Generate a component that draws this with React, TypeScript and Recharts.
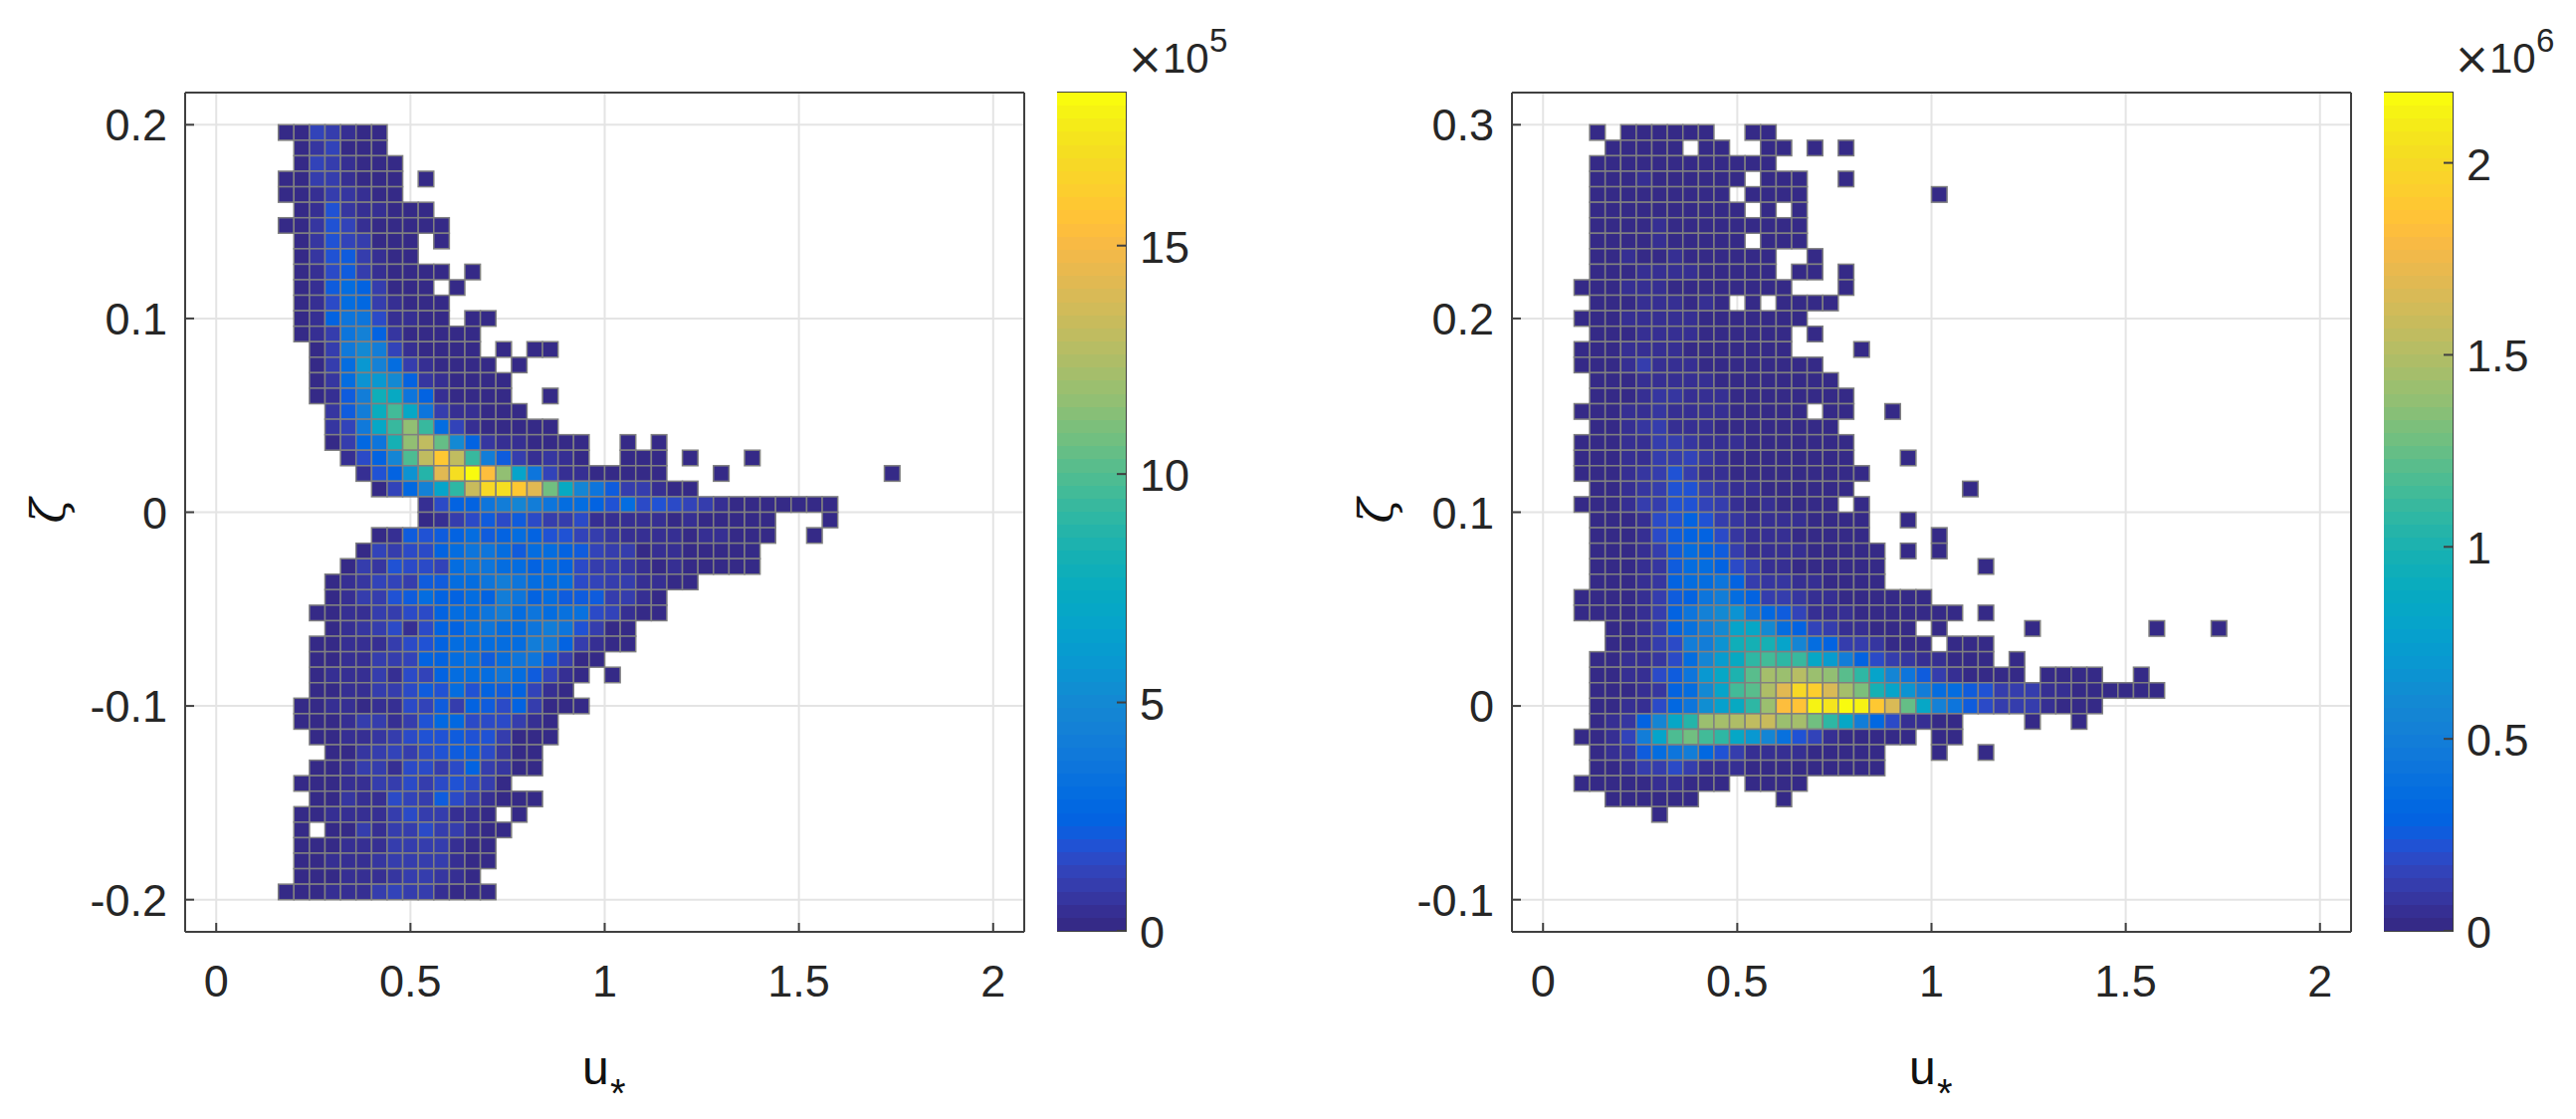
import { Bar, BarChart, CartesianGrid, ReferenceArea, Scatter, ScatterChart, XAxis, YAxis } from "recharts"

// bin heights, in % of the colorbar top. Each row is [first column, ...values], 0 = empty bin
const leftRows: number[][] = [
  [0, 1, 1, 7, 5, 3, 1, 1],
  [1, 1, 4, 7, 1, 1, 1],
  [1, 1, 7, 6, 3, 1, 1, 1],
  [0, 1, 1, 5, 6, 3, 1, 1, 1, 0, 1],
  [0, 1, 1, 3, 6, 4, 2, 1, 1],
  [1, 1, 3, 10, 4, 2, 2, 1, 1, 1],
  [0, 1, 1, 4, 10, 7, 2, 1, 1, 1, 1, 1],
  [1, 1, 4, 10, 7, 6, 1, 1, 1, 0, 1],
  [1, 1, 4, 10, 12, 5, 2, 1, 1],
  [1, 1, 3, 8, 12, 6, 2, 1, 1, 1, 1, 0, 1],
  [1, 1, 2, 12, 17, 13, 6, 1, 1, 1, 0, 1],
  [1, 1, 2, 9, 17, 15, 6, 3, 1, 1, 1],
  [1, 1, 2, 13, 19, 20, 9, 3, 2, 1, 1, 0, 1, 1],
  [1, 1, 2, 5, 20, 24, 13, 4, 1, 1, 1, 1, 1],
  [2, 1, 6, 21, 27, 22, 7, 3, 1, 1, 1, 1, 0, 1, 0, 1, 1],
  [2, 1, 6, 17, 32, 24, 17, 6, 2, 1, 1, 1, 1, 0, 1],
  [2, 1, 4, 16, 30, 32, 27, 14, 4, 2, 1, 1, 1, 1],
  [2, 1, 2, 12, 22, 43, 40, 20, 14, 3, 1, 1, 1, 1, 0, 0, 1],
  [3, 4, 12, 22, 41, 52, 38, 19, 5, 3, 2, 1, 1, 1],
  [3, 4, 7, 21, 38, 51, 63, 51, 17, 7, 2, 1, 1, 1, 1, 1],
  [3, 1, 5, 15, 20, 45, 63, 71, 57, 27, 14, 4, 2, 2, 1, 1, 1, 1, 0, 0, 1, 0, 1],
  [4, 2, 9, 14, 25, 54, 71, 87, 71, 50, 22, 12, 5, 3, 4, 2, 1, 0, 0, 1, 1, 1, 0, 1, 0, 0, 0, 1],
  [5, 3, 10, 14, 30, 48, 78, 93, 100, 83, 63, 37, 19, 7, 3, 2, 1, 1, 1, 1, 1, 0, 0, 0, 1, 0, 0, 0, 0, 0, 0, 0, 0, 0, 0, 1],
  [6, 1, 7, 15, 24, 37, 49, 72, 91, 93, 87, 78, 59, 40, 25, 19, 11, 5, 5, 3, 1, 1],
  [9, 3, 8, 13, 14, 19, 22, 25, 22, 19, 17, 16, 13, 10, 16, 9, 10, 8, 7, 6, 3, 1, 1, 1, 1, 1, 1, 1],
  [9, 1, 3, 6, 8, 11, 9, 11, 8, 5, 5, 8, 3, 2, 2, 2, 3, 1, 2, 1, 1, 1, 1, 1, 0, 0, 0, 1],
  [6, 1, 3, 11, 10, 11, 13, 17, 11, 14, 16, 13, 10, 10, 7, 5, 4, 3, 3, 3, 3, 1, 3, 3, 1, 1, 1, 0, 0, 1],
  [5, 1, 7, 6, 9, 9, 14, 17, 19, 20, 16, 12, 17, 17, 14, 11, 7, 6, 6, 1, 2, 3, 1, 1, 1, 1, 1],
  [4, 1, 5, 4, 10, 9, 9, 7, 16, 19, 19, 17, 17, 14, 17, 14, 8, 6, 5, 4, 3, 1, 2, 1, 1, 1, 1, 1],
  [3, 1, 3, 4, 7, 7, 6, 12, 11, 17, 17, 20, 22, 20, 16, 17, 16, 9, 7, 6, 6, 3, 3, 1, 1],
  [3, 1, 3, 6, 5, 10, 12, 16, 14, 14, 17, 14, 23, 19, 14, 17, 12, 12, 11, 6, 6, 3, 1],
  [2, 1, 1, 3, 2, 6, 6, 8, 9, 14, 16, 17, 19, 22, 17, 19, 17, 18, 18, 8, 7, 2, 1, 1],
  [3, 1, 3, 4, 5, 8, 3, 8, 14, 14, 18, 19, 16, 17, 19, 22, 19, 10, 6, 1, 1],
  [2, 1, 1, 3, 3, 3, 5, 8, 10, 14, 16, 17, 16, 17, 17, 22, 21, 14, 6, 3, 1, 1],
  [2, 1, 1, 3, 3, 5, 5, 7, 13, 14, 16, 18, 11, 17, 19, 19, 11, 6, 1, 1],
  [2, 1, 2, 3, 2, 5, 3, 9, 7, 14, 16, 16, 17, 20, 17, 11, 7, 2, 1, 0, 1],
  [2, 1, 1, 3, 3, 5, 5, 9, 11, 10, 16, 10, 13, 11, 13, 7, 3, 1],
  [1, 1, 1, 2, 2, 1, 3, 3, 9, 7, 12, 6, 14, 11, 9, 14, 5, 1, 1, 1],
  [1, 1, 1, 1, 3, 6, 5, 3, 5, 10, 15, 15, 9, 9, 9, 6, 3, 1],
  [2, 1, 1, 3, 2, 4, 5, 8, 10, 10, 12, 10, 10, 6, 1, 1, 1],
  [3, 1, 1, 4, 6, 7, 6, 8, 10, 12, 12, 9, 4, 1, 1],
  [2, 1, 1, 3, 6, 5, 3, 8, 8, 6, 8, 13, 6, 4, 1, 1],
  [1, 1, 1, 1, 2, 2, 6, 5, 8, 6, 8, 10, 8, 5, 1],
  [2, 1, 1, 4, 2, 3, 8, 7, 5, 11, 8, 5, 2, 1, 1, 1],
  [1, 1, 1, 3, 3, 2, 3, 6, 8, 6, 5, 3, 3, 1, 0, 1],
  [1, 1, 0, 1, 1, 5, 2, 6, 6, 8, 6, 6, 3, 1, 1],
  [1, 1, 1, 1, 3, 3, 3, 6, 6, 6, 6, 3, 1, 1],
  [1, 1, 1, 2, 3, 2, 4, 5, 6, 6, 6, 3, 1, 1],
  [1, 1, 1, 1, 3, 2, 3, 4, 6, 5, 4, 3, 1],
  [0, 1, 1, 1, 2, 3, 3, 5, 7, 6, 5, 3, 1, 1, 1],
]

const rightRows: number[][] = [
  [1, 1, 0, 1, 1, 1, 1, 1, 1, 0, 0, 1, 1],
  [2, 1, 1, 1, 1, 1, 0, 1, 1, 0, 0, 1, 1, 0, 1, 0, 1],
  [1, 1, 1, 1, 1, 1, 1, 1, 1, 1, 1, 1, 1],
  [1, 1, 1, 1, 2, 1, 1, 1, 1, 1, 1, 0, 1, 1, 1, 0, 0, 1],
  [1, 1, 1, 1, 1, 1, 1, 1, 1, 1, 0, 1, 1, 1, 1, 0, 0, 0, 0, 0, 0, 0, 0, 1],
  [1, 1, 1, 1, 1, 1, 1, 1, 1, 1, 1, 0, 1, 0, 1],
  [1, 1, 1, 1, 1, 2, 1, 1, 1, 1, 1, 1, 1, 1, 1],
  [1, 1, 1, 1, 1, 2, 1, 1, 1, 1, 1, 0, 1, 1, 1],
  [1, 1, 1, 2, 1, 1, 2, 1, 1, 1, 1, 1, 1, 0, 0, 1],
  [1, 1, 1, 1, 2, 2, 2, 2, 1, 1, 1, 1, 1, 0, 1, 1, 0, 1],
  [0, 1, 1, 1, 3, 3, 3, 1, 1, 1, 1, 1, 1, 1, 1, 0, 0, 0, 1],
  [1, 1, 1, 1, 2, 2, 2, 1, 3, 1, 0, 1, 0, 1, 1, 1, 1],
  [0, 1, 1, 1, 2, 2, 2, 2, 2, 1, 1, 1, 1, 1, 1, 1],
  [1, 1, 1, 1, 2, 2, 3, 3, 1, 1, 1, 1, 1, 1, 0, 1],
  [0, 1, 1, 1, 2, 2, 2, 2, 1, 1, 1, 1, 1, 1, 1, 0, 0, 0, 0, 1],
  [0, 1, 1, 1, 3, 5, 2, 3, 2, 1, 1, 1, 1, 1, 1, 1, 1],
  [1, 1, 1, 1, 3, 2, 2, 2, 2, 1, 1, 1, 1, 1, 1, 1, 1],
  [1, 1, 1, 1, 2, 4, 4, 3, 2, 2, 1, 1, 1, 1, 1, 1, 1, 1],
  [0, 1, 1, 1, 2, 3, 4, 3, 3, 2, 2, 1, 1, 1, 1, 1, 0, 1, 1, 0, 0, 1],
  [1, 1, 1, 3, 4, 5, 3, 3, 3, 1, 1, 1, 1, 1, 1, 1, 1],
  [0, 1, 1, 1, 2, 3, 5, 6, 4, 3, 2, 2, 1, 1, 1, 1, 1, 1, 1],
  [0, 1, 1, 1, 3, 3, 5, 6, 7, 4, 2, 1, 1, 1, 1, 1, 1, 1, 1, 0, 0, 0, 1],
  [0, 1, 1, 1, 2, 4, 6, 10, 5, 3, 3, 1, 1, 1, 1, 1, 1, 1, 1, 1],
  [1, 1, 1, 3, 4, 6, 10, 10, 5, 4, 2, 2, 1, 1, 1, 1, 1, 1, 0, 0, 0, 0, 0, 0, 0, 1],
  [0, 1, 1, 1, 3, 5, 6, 10, 10, 7, 5, 3, 1, 2, 1, 1, 1, 1, 0, 1],
  [1, 1, 1, 1, 3, 9, 10, 13, 10, 5, 4, 2, 2, 2, 2, 1, 1, 1, 1, 0, 0, 1],
  [1, 1, 1, 1, 3, 8, 12, 13, 14, 8, 4, 3, 2, 3, 1, 1, 1, 1, 1, 0, 0, 0, 0, 1],
  [1, 1, 1, 1, 3, 6, 12, 16, 14, 12, 5, 3, 2, 3, 2, 1, 1, 1, 1, 1, 0, 1, 0, 1],
  [1, 1, 1, 1, 2, 4, 12, 16, 16, 14, 9, 5, 3, 3, 1, 1, 1, 1, 1, 1, 0, 0, 0, 0, 0, 0, 1],
  [1, 1, 1, 1, 2, 4, 14, 16, 17, 19, 14, 6, 4, 4, 3, 2, 1, 1, 1, 1],
  [0, 1, 1, 1, 1, 3, 6, 12, 14, 19, 22, 17, 14, 6, 5, 4, 3, 3, 1, 1, 1, 1, 1, 1],
  [0, 1, 1, 1, 1, 3, 6, 14, 19, 24, 27, 30, 19, 15, 12, 7, 3, 3, 2, 1, 1, 1, 1, 1, 1, 1, 0, 1],
  [2, 1, 1, 3, 6, 14, 18, 22, 28, 37, 38, 27, 16, 14, 7, 5, 3, 3, 1, 1, 1, 0, 1, 0, 0, 0, 0, 0, 1, 0, 0, 0, 0, 0, 0, 0, 1, 0, 0, 0, 1],
  [2, 1, 1, 3, 6, 9, 22, 23, 30, 43, 44, 44, 37, 26, 17, 13, 6, 5, 4, 1, 1, 1, 0, 1, 1, 1],
  [1, 1, 1, 3, 3, 4, 9, 17, 25, 33, 40, 49, 52, 49, 51, 39, 33, 22, 14, 8, 5, 4, 3, 2, 1, 1, 1, 0, 1],
  [1, 1, 1, 2, 2, 8, 11, 19, 32, 38, 46, 56, 66, 65, 70, 65, 63, 56, 49, 37, 25, 19, 11, 5, 3, 1, 1, 1, 1, 0, 1, 1, 1, 1, 0, 0, 1],
  [1, 1, 1, 1, 2, 4, 13, 17, 28, 37, 52, 56, 68, 77, 92, 89, 75, 67, 60, 44, 37, 30, 22, 16, 17, 12, 10, 5, 5, 5, 3, 3, 1, 1, 1, 1, 1, 1],
  [1, 1, 1, 2, 3, 9, 15, 20, 29, 35, 40, 49, 65, 83, 85, 97, 94, 100, 98, 87, 76, 57, 38, 24, 20, 12, 9, 5, 5, 6, 3, 1, 1, 1],
  [1, 1, 2, 4, 14, 26, 38, 48, 65, 67, 68, 71, 73, 65, 66, 59, 49, 38, 22, 15, 9, 3, 3, 1, 1, 0, 0, 0, 0, 1, 0, 0, 1],
  [0, 1, 1, 3, 7, 22, 37, 54, 58, 52, 49, 39, 32, 26, 18, 10, 7, 3, 1, 1, 1, 1, 1, 0, 1, 1],
  [1, 1, 2, 4, 11, 17, 19, 22, 15, 10, 6, 3, 3, 2, 2, 1, 1, 1, 1, 1, 0, 0, 0, 1, 0, 0, 1],
  [1, 1, 1, 3, 5, 6, 8, 5, 2, 2, 2, 1, 1, 1, 1, 1, 1, 1, 1, 1],
  [0, 1, 1, 1, 1, 1, 2, 2, 1, 1, 1, 0, 1, 1, 1, 1],
  [2, 1, 1, 1, 1, 1, 1, 0, 0, 0, 0, 0, 1],
  [5, 1],
]

const uTicks = [0, 0.5, 1, 1.5, 2]
const leftZetaTicks = [-0.2, -0.1, 0, 0.1, 0.2]
const rightZetaTicks = [-0.1, 0, 0.1, 0.2, 0.3]
const leftBarTicks = [0, 5, 10, 15]
const rightBarTicks = [0, 0.5, 1, 1.5, 2]

const uBin = 0.04
const zetaBin = 0.008

const parula = [
  "#352a87", "#362f93", "#3636a0", "#353dad", "#3243b9", "#2b4ac7", "#2052d4", "#0f5cdd",
  "#0363e1", "#0268e1", "#046de0", "#0871de", "#0d75dc", "#1079da", "#127dd8", "#1481d6",
  "#1485d4", "#1389d3", "#108ed2", "#0c93d2", "#0998d1", "#079ccf", "#06a0cd", "#06a4ca",
  "#06a7c6", "#07a9c2", "#0aacbe", "#0faeb9", "#15b0b4", "#1db2af", "#25b4a9", "#2eb7a4",
  "#38b89e", "#42bb98", "#4dbc92", "#59bd8c", "#65be86", "#71bf80", "#7cbf7b", "#87bf77",
  "#92bf73", "#9bbf6f", "#a5be6b", "#aebd67", "#b7bd64", "#c0bc60", "#c8bb5c", "#d1bb59",
  "#d9ba56", "#e1b952", "#e9b94e", "#f1b94a", "#f8ba44", "#fdbe3d", "#ffc337", "#fec832",
  "#fcce2e", "#fad32a", "#f7d826", "#f5de21", "#f5e41d", "#f5eb18", "#f6f313", "#f9fb0e",
]

const FONT = "'Liberation Sans', Arial, sans-serif"
const TEXT = "#262626"
const AXIS = "#404040"
const FONT_SIZE = 45

const colorOf = (pct: number) => parula[Math.min(63, Math.floor(pct * 0.64))]

const toCells = (rows: number[][], u0: number, zeta0: number) =>
  rows.flatMap((row, r) =>
    row.slice(1).flatMap((pct, i) =>
      pct > 0
        ? [{ u: u0 + uBin * (row[0] + i + 0.5), zeta: zeta0 - zetaBin * (r + 0.5), pct }]
        : []
    )
  )

const axisLine = { stroke: AXIS, strokeWidth: 2 }

function BottomTick({ x, y, payload }: any) {
  return (
    <g>
      <line x1={x} x2={x} y1={y} y2={y - 9} stroke={AXIS} strokeWidth={2} />
      <text x={x} y={y + 65} textAnchor="middle" fontFamily={FONT} fontSize={FONT_SIZE} fill={TEXT}>
        {payload.value}
      </text>
    </g>
  )
}

function LeftTick({ x, y, payload }: any) {
  return (
    <g>
      <line x1={x} x2={x + 9} y1={y} y2={y} stroke={AXIS} strokeWidth={2} />
      <text x={x - 18} y={y + 16} textAnchor="end" fontFamily={FONT} fontSize={FONT_SIZE} fill={TEXT}>
        {payload.value}
      </text>
    </g>
  )
}

const TopTick = ({ x, y }: any) => <line x1={x} x2={x} y1={y} y2={y + 9} stroke={AXIS} strokeWidth={2} />
const RightTick = ({ x, y }: any) => <line x1={x} x2={x - 9} y1={y} y2={y} stroke={AXIS} strokeWidth={2} />

function BarTick({ x, y, payload }: any) {
  return (
    <g>
      <line x1={x} x2={x - 9} y1={y} y2={y} stroke={AXIS} strokeWidth={2} />
      <text x={x + 14} y={y + 17} textAnchor="start" fontFamily={FONT} fontSize={FONT_SIZE} fill={TEXT}>
        {payload.value}
      </text>
    </g>
  )
}

interface PanelProps {
  left: number
  width: number
  rows: number[][]
  u0: number
  zeta0: number
  zetaDomain: [number, number]
  zetaTicks: number[]
}

function Panel({ left, width, rows, u0, zeta0, zetaDomain, zetaTicks }: PanelProps) {
  const uDomain: [number, number] = [-0.08, 2.08]
  const plot = { left: 186, top: 93, width: 843, height: 843 }
  const cellW = (uBin * plot.width) / (uDomain[1] - uDomain[0])
  const cellH = (zetaBin * plot.height) / (zetaDomain[1] - zetaDomain[0])

  const CellShape = ({ cx, cy, payload }: any) => (
    <rect
      x={cx - cellW / 2}
      y={cy - cellH / 2}
      width={cellW}
      height={cellH}
      fill={colorOf(payload.pct)}
      stroke="#808080"
      strokeWidth={1.5}
    />
  )

  // the four axes each take 1px of the margin: recharts drops an axis of size 0
  return (
    <div style={{ position: "absolute", left, top: 0 }}>
      <ScatterChart
        width={width}
        height={1124}
        margin={{
          left: plot.left - 1,
          top: plot.top - 1,
          right: width - plot.left - plot.width - 1,
          bottom: 1124 - plot.top - plot.height - 1,
        }}
      >
        <CartesianGrid stroke="#e4e4e4" strokeWidth={2} />
        <XAxis
          type="number"
          dataKey="u"
          domain={uDomain}
          ticks={uTicks}
          interval={0}
          height={1}
          tickSize={0}
          tickMargin={0}
          axisLine={axisLine}
          tickLine={false}
          tick={<BottomTick />}
        />
        <XAxis
          xAxisId="top"
          orientation="top"
          type="number"
          domain={uDomain}
          ticks={uTicks}
          interval={0}
          height={1}
          tickSize={0}
          tickMargin={0}
          axisLine={axisLine}
          tickLine={false}
          tick={<TopTick />}
        />
        <YAxis
          type="number"
          dataKey="zeta"
          domain={zetaDomain}
          ticks={zetaTicks}
          interval={0}
          width={1}
          tickSize={0}
          tickMargin={0}
          axisLine={axisLine}
          tickLine={false}
          tick={<LeftTick />}
        />
        <YAxis
          yAxisId="right"
          orientation="right"
          type="number"
          domain={zetaDomain}
          ticks={zetaTicks}
          interval={0}
          width={1}
          tickSize={0}
          tickMargin={0}
          axisLine={axisLine}
          tickLine={false}
          tick={<RightTick />}
        />
        <Scatter data={toCells(rows, u0, zeta0)} shape={<CellShape />} isAnimationActive={false} />
      </ScatterChart>
    </div>
  )
}

function ColorBar({ left, max, ticks }: { left: number; max: number; ticks: number[] }) {
  const row: Record<string, number | string> = { name: "c" }
  parula.forEach((_, i) => {
    row[`c${i}`] = max / parula.length
  })
  return (
    <div style={{ position: "absolute", left, top: 0 }}>
      <BarChart
        width={180}
        height={1124}
        data={[row]}
        barCategoryGap={0}
        margin={{ left: 0, top: 93, right: 110, bottom: 189 }}
      >
        <XAxis dataKey="name" hide />
        <YAxis
          orientation="right"
          type="number"
          domain={[0, max]}
          ticks={ticks}
          interval={0}
          width={1}
          tickSize={0}
          tickMargin={0}
          axisLine={false}
          tickLine={false}
          tick={<BarTick />}
        />
        {parula.map((c, i) => (
          <Bar key={c} dataKey={`c${i}`} stackId="bar" fill={c} isAnimationActive={false} shapeRendering="crispEdges" />
        ))}
        <ReferenceArea y1={0} y2={max} fill="none" stroke={AXIS} strokeWidth={2} />
      </BarChart>
    </div>
  )
}

function AxisText({ uX, zetaX, expX, exp }: { uX: number; zetaX: number; expX: number; exp: string }) {
  return (
    <>
      <text x={uX} y={1089} fontFamily={FONT} fontSize={48} fill="#111">
        u
      </text>
      <text x={uX + 28} y={1112} fontFamily={FONT} fontSize={40} fill="#111">
        *
      </text>
      <text
        transform={`translate(${zetaX}, 513) rotate(-90)`}
        textAnchor="middle"
        dominantBaseline="middle"
        fontFamily="'DejaVu Serif', serif"
        fontStyle="italic"
        fontSize={46}
        fill="#111"
      >
        ζ
      </text>
      <text x={expX} y={73} fontFamily={FONT} fontSize={42} fill={TEXT}>
        10
      </text>
      <text x={expX - 36} y={74} fontFamily="'DejaVu Sans', sans-serif" fontSize={44} fill={TEXT}>
        ×
      </text>
      <text x={expX + 47} y={52} fontFamily={FONT} fontSize={33} fill={TEXT}>
        {exp}
      </text>
    </>
  )
}

export default function App() {
  return (
    <div style={{ position: "absolute", left: 0, top: 0, width: 2588, height: 1124, background: "#fff", overflow: "hidden" }}>
      <Panel left={0} width={1040} rows={leftRows} u0={0.16} zeta0={0.2} zetaDomain={[-0.2166, 0.2166]} zetaTicks={leftZetaTicks} />
      <Panel left={1333} width={1040} rows={rightRows} u0={0.08} zeta0={0.3} zetaDomain={[-0.1166, 0.3166]} zetaTicks={rightZetaTicks} />
      <ColorBar left={1062} max={18.35} ticks={leftBarTicks} />
      <ColorBar left={2395} max={2.183} ticks={rightBarTicks} />
      <svg width={2588} height={1124} style={{ position: "absolute", left: 0, top: 0, pointerEvents: "none" }}>
        <AxisText uX={585} zetaX={53} expX={1168} exp="5" />
        <AxisText uX={1918} zetaX={1387} expX={2501} exp="6" />
      </svg>
    </div>
  )
}
